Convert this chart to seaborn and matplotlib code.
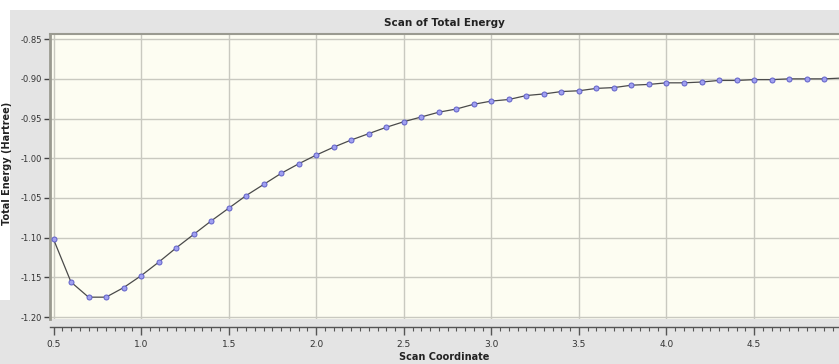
import matplotlib
matplotlib.use("Agg")
import matplotlib.pyplot as plt
import seaborn as sns
import pandas as pd
from matplotlib.ticker import MultipleLocator, FormatStrFormatter
from matplotlib.patches import Rectangle

# scan coordinate and total energy (Hartree)
scan_coord = [0.5, 0.6, 0.7, 0.8, 0.9, 1.0, 1.1, 1.2, 1.3, 1.4,
              1.5, 1.6, 1.7, 1.8, 1.9, 2.0, 2.1, 2.2, 2.3, 2.4,
              2.5, 2.6, 2.7, 2.8, 2.9, 3.0, 3.1, 3.2, 3.3, 3.4,
              3.5, 3.6, 3.7, 3.8, 3.9, 4.0, 4.1, 4.2, 4.3, 4.4,
              4.5, 4.6, 4.7, 4.8, 4.9, 5.0]
total_energy = [-1.102, -1.156, -1.175, -1.175, -1.163, -1.148, -1.131, -1.113, -1.096, -1.079,
                -1.063, -1.047, -1.033, -1.019, -1.007, -0.996, -0.986, -0.977, -0.969, -0.961,
                -0.954, -0.948, -0.942, -0.938, -0.932, -0.928, -0.926, -0.921, -0.919, -0.916,
                -0.915, -0.912, -0.911, -0.908, -0.907, -0.905, -0.905, -0.904, -0.902, -0.902,
                -0.901, -0.901, -0.900, -0.900, -0.900, -0.899]

df = pd.DataFrame({"coord": scan_coord, "energy": total_energy})

sns.set_style("ticks")
plt.rcParams['font.family'] = ['DejaVu Sans']

fig = plt.figure(figsize=(8.39, 3.64), dpi=100, facecolor='#e4e4e4')
# white margins at top and left (kept behind everything else)
fig.patches.append(Rectangle((0, 1 - 10 / 364), 1, 10 / 364, transform=fig.transFigure,
                             facecolor='white', edgecolor='none', zorder=-10))
fig.patches.append(Rectangle((0, 64 / 364), 10 / 839, 1, transform=fig.transFigure,
                             facecolor='white', edgecolor='none', zorder=-10))

ax = fig.add_axes([50 / 839, 1 - 319 / 364, 1 - 50 / 839, (319 - 34) / 364])
ax.set_facecolor('#fdfdf2')

sns.lineplot(data=df, x="coord", y="energy", ax=ax, color='#4a4a4a', linewidth=0.9,
             marker='o', markersize=3.6, markerfacecolor='#a0a0f0', markeredgecolor='#6060c8',
             markeredgewidth=0.7, zorder=3)

ax.set_xlim(0.48, 4.985)
ax.set_ylim(-1.2025, -0.8435)
ax.xaxis.set_major_locator(MultipleLocator(0.5))
ax.xaxis.set_minor_locator(MultipleLocator(0.05))
ax.yaxis.set_major_locator(MultipleLocator(0.05))
ax.xaxis.set_major_formatter(FormatStrFormatter('%.1f'))
ax.yaxis.set_major_formatter(FormatStrFormatter('%.2f'))

ax.grid(True, which='major', color='#c9c9c0', linewidth=1.0)
ax.set_axisbelow(True)

ax.spines['top'].set_visible(True)
ax.spines['top'].set_color('#9a9a90')
ax.spines['top'].set_linewidth(1.5)
ax.spines['right'].set_visible(False)
ax.spines['left'].set_color('#9a9a90')
ax.spines['left'].set_linewidth(2.0)
ax.spines['bottom'].set_position(('outward', 6))
ax.spines['bottom'].set_color('#555555')
ax.spines['bottom'].set_linewidth(1.0)

ax.tick_params(axis='x', which='major', length=6, width=1, color='#555555', labelsize=6.5,
               pad=3, labelcolor='#333333')
ax.tick_params(axis='x', which='minor', length=3, width=0.8, color='#555555')
ax.tick_params(axis='y', which='major', length=4, width=1, color='#444444', labelsize=6,
               pad=2, labelcolor='#333333')

ax.set_xlabel("Scan Coordinate", fontsize=7, fontweight='semibold', labelpad=2, color='#222222')
ax.set_ylabel("Total Energy (Hartree)", fontsize=7, fontweight='bold', color='#222222')
ax.yaxis.set_label_coords(-38 / 789, 0.545)
ax.set_title("Scan of Total Energy", fontsize=7.5, fontweight='semibold', color='#222222', pad=6)

fig.savefig("out.png", dpi=100, facecolor=fig.get_facecolor())
